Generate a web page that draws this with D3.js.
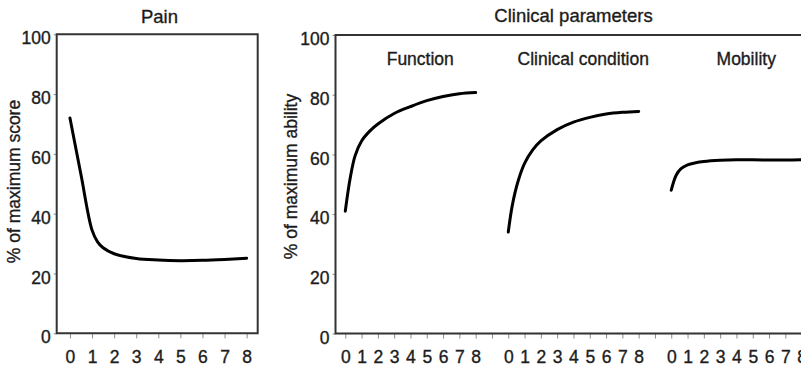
<!DOCTYPE html>
<html>
<head>
<meta charset="utf-8">
<script src="https://cdn.jsdelivr.net/npm/d3@7"></script>
<style>
  html, body { margin: 0; padding: 0; background: #fff; }
  svg { display: block; }
  text { font-family: "Liberation Sans", Arial, sans-serif; fill: #1c1c1c; stroke: #1c1c1c; stroke-width: 0.35px; }
</style>
</head>
<body>
<svg id="chart" width="801" height="375"></svg>
<script>
// ---- Data -------------------------------------------------------------
const xTickLabels = ["0", "1", "2", "3", "4", "5", "6", "7", "8"];
const yTickValues = [0, 20, 40, 60, 80, 100];

// Pain score over time (% of maximum score)
const painTimes  = [0, 0.5, 1, 1.25, 1.5, 2, 3, 4, 5, 6, 7, 8];
const painValues = [72, 53, 34.5, 30.6, 28.6, 26.6, 25.0, 24.5, 24.3, 24.4, 24.7, 25.1];

// Clinical parameters (% of maximum ability)
const groupNames = ["Function", "Clinical condition", "Mobility"];

const functionTimes  = [0, 0.3, 0.6, 1, 1.5, 2, 3, 4, 5, 6, 7, 8];
const functionValues = [41, 52, 59.5, 64.5, 67.8, 70.2, 73.7, 76, 78, 79.4, 80.3, 80.7];

const conditionTimes  = [0, 0.25, 0.6, 1, 1.5, 2, 3, 4, 5, 6, 7, 8];
const conditionValues = [34, 43, 51, 57, 61.5, 64.5, 68.3, 70.8, 72.4, 73.5, 74.1, 74.4];

const mobilityTimes  = [0, 0.3, 0.6, 1, 1.5, 2, 3, 4, 5, 6, 7, 8];
const mobilityValues = [48, 53, 55.2, 56.5, 57.2, 57.6, 58, 58.2, 58.2, 58.1, 58.1, 58.2];

const groupTimes  = [functionTimes, conditionTimes, mobilityTimes];
const groupValues = [functionValues, conditionValues, mobilityValues];
const groupSpan = 10; // x units reserved for each group on the shared axis

// ---- Layout -----------------------------------------------------------
const svg = d3.select("#chart");
const FONT = 17.5;
const frameColor = "#333";
const tickColor = "#8a8a8a";

function drawPanel(opts) {
  const g = svg.append("g");
  const x = d3.scaleLinear().domain(opts.xDomain).range(opts.xRange);
  const y = d3.scaleLinear().domain([0, 100]).range(opts.yRange);

  // y axis ticks and labels
  const yAxis = d3.axisLeft(y).tickValues(yTickValues).tickSize(3).tickPadding(3);
  const ya = g.append("g").attr("transform", `translate(${opts.xRange[0]},0)`).call(yAxis);
  ya.select(".domain").remove();
  ya.selectAll(".tick line").attr("stroke", tickColor);
  ya.selectAll(".tick text").style("font-size", FONT + "px").attr("dy", "0.55em").attr("fill", "#1c1c1c");

  // x axis ticks and labels
  const xAxis = d3.axisBottom(x).tickValues(opts.xTicks).tickSize(5).tickPadding(12)
    .tickFormat(opts.xFormat);
  const xa = g.append("g").attr("transform", `translate(0,${opts.yRange[0]})`).call(xAxis);
  xa.select(".domain").remove();
  xa.selectAll(".tick line").attr("stroke", tickColor);
  xa.selectAll(".tick text").style("font-size", FONT + "px").attr("fill", "#1c1c1c");

  // frame
  const [x0, x1] = opts.xRange;
  const [yb, yt] = opts.yRange;
  const frame = d3.path();
  if (opts.closedRight) {
    frame.rect(x0, yt, x1 - x0, yb - yt);
  } else {
    frame.moveTo(x1, yt); frame.lineTo(x0, yt); frame.lineTo(x0, yb); frame.lineTo(x1, yb);
  }
  g.append("path").attr("d", frame.toString())
    .attr("fill", "none").attr("stroke", frameColor).attr("stroke-width", 2);

  // axis title
  g.append("text")
    .attr("transform", `translate(${opts.yTitleX},${opts.yTitleY}) rotate(-90)`)
    .attr("text-anchor", "middle")
    .style("font-size", FONT + "px")
    .text(opts.yTitle);

  // panel title
  g.append("text")
    .attr("x", opts.titleX).attr("y", opts.titleY)
    .attr("text-anchor", "middle")
    .style("font-size", "18.5px")
    .text(opts.title);

  return { g, x, y };
}

const line = (x, y) => d3.line()
  .x(d => x(d[0])).y(d => y(d[1]))
  .curve(d3.curveCatmullRom.alpha(0.5));

// ---- Pain panel -------------------------------------------------------
const pain = drawPanel({
  xDomain: [-0.6, 8.5], xRange: [56.7, 257.7],
  yRange: [333.3, 34.3],
  xTicks: d3.range(0, 9), xFormat: d => xTickLabels[d],
  closedRight: true,
  yTitle: "% of maximum score", yTitleX: 19.5, yTitleY: 181.5,
  title: "Pain", titleX: 159.5, titleY: 22.5
});
pain.g.append("path")
  .datum(painTimes.map((t, i) => [t, painValues[i]]))
  .attr("d", line(pain.x, pain.y))
  .attr("fill", "none").attr("stroke", "#000").attr("stroke-width", 3)
  .attr("stroke-linecap", "round");

// ---- Clinical parameters panel ----------------------------------------
const clin = drawPanel({
  xDomain: [-0.6, 28.5], xRange: [335.5, 809.8],
  yRange: [333.5, 35],
  xTicks: d3.range(0, 29),
  xFormat: d => (d % groupSpan) < xTickLabels.length ? xTickLabels[d % groupSpan] : "",
  closedRight: false,
  yTitle: "% of maximum ability", yTitleX: 296.5, yTitleY: 176.5,
  title: "Clinical parameters", titleX: 573.5, titleY: 21.5
});

groupNames.forEach((name, gi) => {
  const offset = gi * groupSpan;
  clin.g.append("path")
    .datum(groupTimes[gi].map((t, i) => [t + offset, groupValues[gi][i]]))
    .attr("d", line(clin.x, clin.y))
    .attr("fill", "none").attr("stroke", "#000").attr("stroke-width", 3)
    .attr("stroke-linecap", "round");

  clin.g.append("text")
    .attr("x", clin.x(offset + 4.6))
    .attr("y", 65)
    .attr("text-anchor", "middle")
    .style("font-size", FONT + "px")
    .text(name);
});
</script>
</body>
</html>
